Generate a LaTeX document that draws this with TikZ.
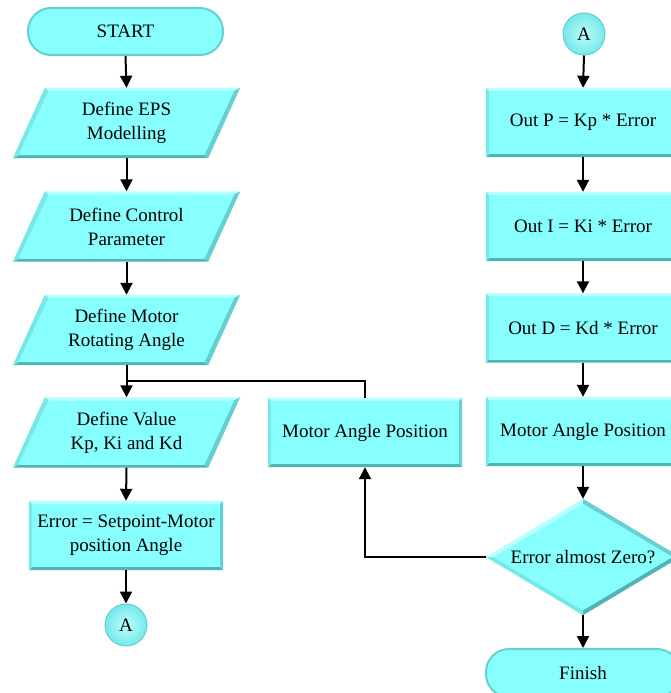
\documentclass[tikz,border=0pt]{standalone}
\usepackage{fontspec}
\setmainfont{Liberation Serif}
\usetikzlibrary{arrows.meta,calc}
\definecolor{fillc}{RGB}{136,255,255}
\definecolor{hic}{RGB}{185,255,255}
\definecolor{midc}{RGB}{118,232,232}
\definecolor{dkc}{RGB}{78,180,180}
\definecolor{dkc2}{RGB}{100,208,208}
\pgfdeclarelayer{bg}
\pgfsetlayers{bg,main}
\newcommand\bevelquad[8]{%
 \fill[hic] (#1)--(#2)--(#6)--(#5)--cycle;
 \fill[dkc2] (#2)--(#3)--(#7)--(#6)--cycle;
 \fill[dkc] (#3)--(#4)--(#8)--(#7)--cycle;
 \fill[midc] (#4)--(#1)--(#5)--(#8)--cycle;
 \fill[fillc] (#5)--(#6)--(#7)--(#8)--cycle;}
\newcommand\bevelrect[1]{\bevelquad{#1.north west}{#1.north east}{#1.south east}{#1.south west}{$(#1.north west)+(3,3)$}{$(#1.north east)+(-3,3)$}{$(#1.south east)+(-3,-3)$}{$(#1.south west)+(3,-3)$}}
\newcommand\bevelpar[1]{\bevelquad{$(#1.north west)+(32,0)$}{#1.north east}{$(#1.south east)+(-32,0)$}{#1.south west}{$(#1.north west)+(36,3)$}{$(#1.north east)+(-6,3)$}{$(#1.south east)+(-36,-3)$}{$(#1.south west)+(6,-3)$}}
\newcommand\beveldia[1]{\bevelquad{#1.west}{#1.north}{#1.east}{#1.south}{$(#1.west)+(8,0)$}{$(#1.north)+(0,5)$}{$(#1.east)+(-8,0)$}{$(#1.south)+(0,-5)$}}
\tikzset{
 txt/.style={inner sep=0pt, align=center, font=\fontsize{19}{24}\selectfont},
 rbox/.style={txt, minimum width=194pt, minimum height=69pt},
 pbox/.style={txt, minimum width=227pt, minimum height=70pt},
 dbox/.style={txt, minimum width=194pt, minimum height=116pt},
 pill/.style={txt, minimum width=195pt, minimum height=47pt, rounded corners=23pt, fill=fillc, draw=dkc2, line width=2pt},
 conn/.style={txt, circle, minimum size=42pt, draw=dkc2, line width=1pt, inner color=hic, outer color=midc},
 arr/.style={-{Triangle[length=12pt,width=12pt]}, line width=2pt},
 ln/.style={line width=2pt}
}
\begin{document}
\begin{tikzpicture}[x=1pt,y=-1pt]
\useasboundingbox (0,0) rectangle (670,693);
% left column
\node[pill] (start) at (125.5,31.5) {START};
\node[pbox] (eps) at (126.5,123) {Define EPS\\Modelling};
\node[pbox] (ctrl) at (126.5,226.5) {Define Control\\Parameter};
\node[pbox] (motor) at (126.5,330) {Define Motor\\Rotating Angle};
\node[pbox] (value) at (126.5,432.5) {Define Value\\Kp, Ki and Kd};
\node[rbox] (err) at (126,535.5) {Error = Setpoint-Motor\\position Angle};
\node[conn] (aL) at (126,625) {A};
\node[rbox] (mapL) at (365,432.5) {Motor Angle Position};
\coordinate (j) at (126.5,381);
% right column
\node[conn] (aR) at (584,34) {A};
\node[rbox] (outP) at (583,122.5) {Out P = Kp * Error};
\node[rbox] (outI) at (583,226.5) {Out I = Ki * Error};
\node[rbox] (outD) at (583,328) {Out D = Kd * Error};
\node[rbox] (mapR) at (583,431.5) {Motor Angle Position};
\node[dbox] (dec) at (583,557) {Error almost Zero?};
\node[pill, minimum width=194pt, minimum height=48pt] (fin) at (583,673) {Finish};
\begin{pgfonlayer}{bg}
\fill[white] (0,0) rectangle (670,693);
\bevelpar{eps}
\bevelpar{ctrl}
\bevelpar{motor}
\bevelpar{value}
\bevelrect{err}
\bevelrect{mapL}
\bevelrect{outP}
\bevelrect{outI}
\bevelrect{outD}
\bevelrect{mapR}
\beveldia{dec}
\end{pgfonlayer}
% connectors
\draw[arr] (start.south) -- (eps.north);
\draw[arr] (eps.south) -- (ctrl.north);
\draw[arr] (ctrl.south) -- (motor.north);
\draw[arr] (motor.south) -- (value.north);
\draw[arr] (value.south) -- (err.north);
\draw[arr] (err.south) -- (aL.north);
\draw[ln] (mapL.north) |- (j);
\draw[arr] (aR.south) -- (outP.north);
\draw[arr] (outP.south) -- (outI.north);
\draw[arr] (outI.south) -- (outD.north);
\draw[arr] (outD.south) -- (mapR.north);
\draw[arr] (mapR.south) -- (dec.north);
\draw[arr] (dec.south) -- (fin.north);
\draw[arr] (dec.west) -| (mapL.south);
\end{tikzpicture}
\end{document}
